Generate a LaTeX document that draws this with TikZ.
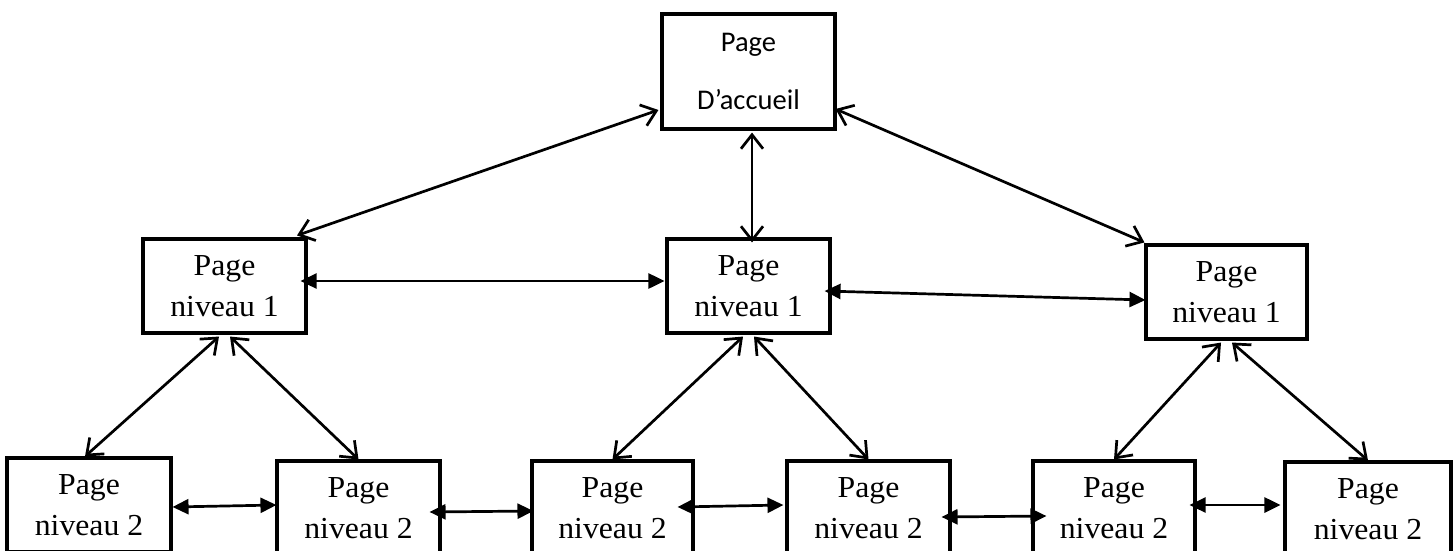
\documentclass[tikz,border=0pt]{standalone}
\usepackage{fontspec}
\setmainfont[FakeStretch=1.04]{Liberation Serif}
\newfontfamily\carlito{Carlito}
\usetikzlibrary{arrows.meta,calc}
\begin{document}
\begin{tikzpicture}[x=1pt,y=-1pt,
  pagebox/.style={draw,line width=3.1pt,inner sep=0pt,align=center,
    minimum width=163pt,minimum height=94pt,
    font=\fontsize{30.5}{41}\selectfont},
  homebox/.style={pagebox,minimum width=173pt,minimum height=115pt,
    font=\carlito\fontsize{28.5}{58}\selectfont},
  link/.style={line width=2.7pt,{Straight Barb[length=14pt,width=22pt,line width=2.7pt]}-{Straight Barb[length=14pt,width=22pt,line width=2.7pt]}},
  sib/.style={line width=2.7pt,{Triangle[length=16pt,width=15pt]}-{Triangle[length=16pt,width=15pt]}}]
\useasboundingbox (0,0) rectangle (1456,551);

% home page
\node[homebox] (T) at (748.5,71.5) {Page\\D’accueil};

% level 1
\node[pagebox] (A) at (224.5,286) {Page\\niveau 1};
\node[pagebox] (B) at (748.5,286) {Page\\niveau 1};
\node[pagebox,minimum width=161pt] (C) at (1226.5,292) {Page\\niveau 1};

% level 2
\node[pagebox,minimum width=164pt] (n1) at (89,505) {Page\\niveau 2};
\node[pagebox] (n2) at (358.5,508) {Page\\niveau 2};
\node[pagebox,minimum width=161pt] (n3) at (612.5,508) {Page\\niveau 2};
\node[pagebox] (n4) at (868.5,508) {Page\\niveau 2};
\node[pagebox,minimum width=162pt] (n5) at (1114,508) {Page\\niveau 2};
\node[pagebox,minimum width=166pt] (n6) at (1368,509) {Page\\niveau 2};

% home to level 1
\draw[link] ($(T.west)+(-2,38.5)$) -- ($(A.north)+(72.5,-2)$);
\draw[link] ($(T.east)+(-1,37.5)$) -- ($(C.north west)+(0,-1)$);
\draw[link] ($(T.south)+(3.5,2)$) -- ($(B.north)+(3.5,5)$);

% level 1 siblings
\draw[sib] ($(A.east)+(-7,-5)$) -- ($(B.west)+(-1,-5)$);
\draw[sib] ($(B.east)+(-7,5)$) -- ($(C.west)+(1,8)$);

% level 1 to level 2
\draw[link] ($(A.south)+(-5.5,2)$) -- ($(n1.north)+(-4,0)$);
\draw[link] ($(A.south)+(5.5,2)$) -- (n2.north);
\draw[link] ($(B.south)+(-5.5,2)$) -- (n3.north);
\draw[link] ($(B.south)+(5.5,2)$) -- (n4.north);
\draw[link] ($(C.south)+(-5.5,2)$) -- (n5.north);
\draw[link] ($(C.south)+(5.5,2)$) -- (n6.north);

% level 2 siblings
\draw[sib] ($(n1.east)+(0,2)$) -- ($(n2.west)+(1,-3)$);
\draw[sib] ($(n2.east)+(-12,4)$) -- ($(n3.west)+(3,3)$);
\draw[sib] ($(n3.east)+(-17,-1)$) -- ($(n4.west)+(-2,-3)$);
\draw[sib] ($(n4.east)+(-10,9)$) -- ($(n5.west)+(15,8)$);
\draw[sib] ($(n5.east)+(-7,-3)$) -- ($(n6.west)+(-3,-4)$);
\end{tikzpicture}
\end{document}
